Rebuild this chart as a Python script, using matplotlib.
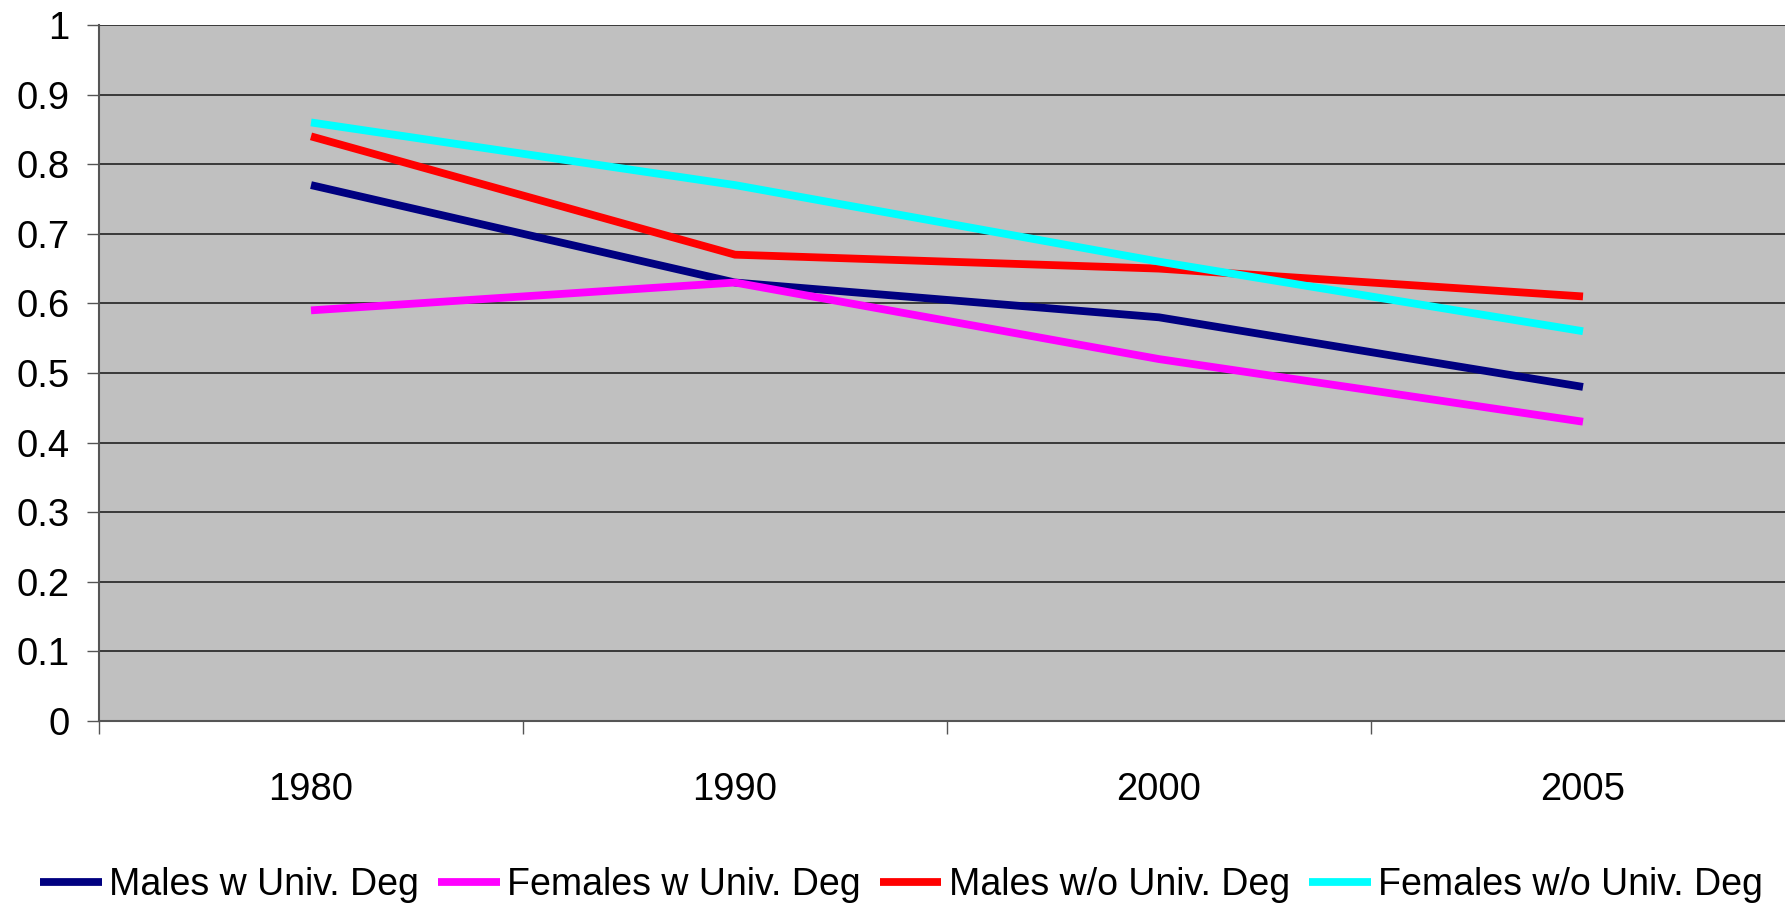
import matplotlib
matplotlib.use("Agg")
import matplotlib.pyplot as plt
import numpy as np

years = ["1980", "1990", "2000", "2005"]
males_univ = [0.77, 0.63, 0.58, 0.48]
females_univ = [0.59, 0.63, 0.52, 0.43]
males_no_univ = [0.84, 0.67, 0.65, 0.61]
females_no_univ = [0.86, 0.77, 0.66, 0.56]
series_labels = ["Males w Univ. Deg", "Females w Univ. Deg", "Males w/o Univ. Deg", "Females w/o Univ. Deg"]
series_colors = ["#000080", "#FF00FF", "#FF0000", "#00FFFF"]
y_ticks = [0, 0.1, 0.2, 0.3, 0.4, 0.5, 0.6, 0.7, 0.8, 0.9, 1]
y_ticklabels = ["0", "0.1", "0.2", "0.3", "0.4", "0.5", "0.6", "0.7", "0.8", "0.9", "1"]

plt.rcParams['font.family'] = ['Liberation Sans', 'DejaVu Sans']

W, H = 1785, 911
fig = plt.figure(figsize=(W / 100, H / 100), dpi=100)
ax = fig.add_axes([99 / W, (H - 721) / H, 1696 / W, 696 / H])
ax.set_facecolor("#C0C0C0")

x = np.arange(len(years))
for vals, lab, col in zip([males_univ, females_univ, males_no_univ, females_no_univ], series_labels, series_colors):
    ax.plot(x, vals, color=col, lw=5.6, label=lab, solid_capstyle='butt', solid_joinstyle='miter', zorder=3)

ax.set_xlim(-0.5, len(years) - 0.5)
ax.set_ylim(0, 1)
ax.set_yticks(y_ticks)
ax.set_yticklabels(y_ticklabels)
ax.yaxis.grid(True, color="#222222", lw=1.2, zorder=1)
ax.set_axisbelow(True)

# category labels at centres, tick marks at boundaries
ax.set_xticks(x)
ax.set_xticklabels(years)
ax.tick_params(axis='x', which='major', length=0, pad=37, labelsize=27.5)
ax.set_xticks(np.arange(-0.5, len(years) - 0.5, 1.0), minor=True)
ax.tick_params(axis='x', which='minor', length=9, width=1, color="#555555", direction='out')
ax.tick_params(axis='y', length=9, width=1, color="#555555", direction='out', pad=12, labelsize=27.5)

for s in ["top", "right"]:
    ax.spines[s].set_visible(False)
ax.spines["left"].set_color("#555555")
ax.spines["left"].set_linewidth(1.5)
ax.spines["bottom"].set_color("#555555")
ax.spines["bottom"].set_linewidth(1.5)

leg = fig.legend(loc='center', bbox_to_anchor=(0.505, (H - 885) / H), ncol=4, frameon=False,
                 fontsize=27, handlelength=1.65, handletextpad=0.2, columnspacing=0.5,
                 borderaxespad=0, borderpad=0)

fig.savefig("out.png", dpi=100)
